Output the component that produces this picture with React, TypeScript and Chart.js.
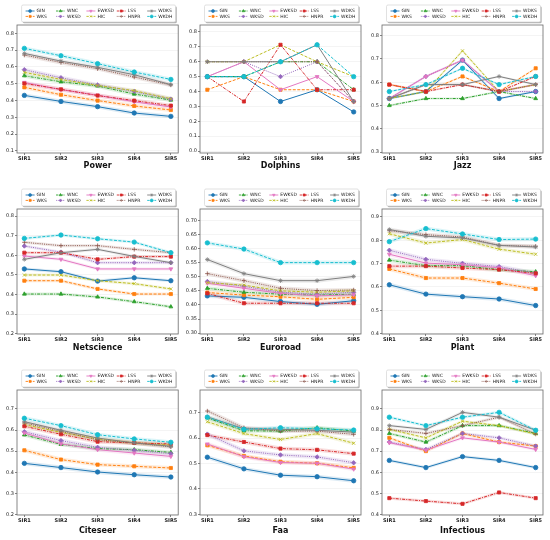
import { useEffect, useRef } from "react";
import { Chart, registerables } from "chart.js";
import { drawPoint } from "chart.js/helpers";

Chart.register(...registerables);
Chart.defaults.font.family = "DejaVu Sans";

const sirLabels = ["SIR1", "SIR2", "SIR3", "SIR4", "SIR5"];
const methodNames = ["GIN", "WKS", "WNC", "WKSD", "EWKSD", "HIC", "LSS", "HNPR", "WDKS", "WKDH"];
const methodColors = [
  "#1f77b4", "#ff7f0e", "#2ca02c", "#9467bd", "#e377c2",
  "#bcbd22", "#d62728", "#8c564b", "#7f7f7f", "#17becf",
];
const methodDashes = [
  [], [3, 1.5], [3, 1.2, 1, 1.2], [1, 1.2], [],
  [3, 1.5], [3, 1.2, 1, 1.2], [1, 1.2], [], [3, 1.5],
];
const methodMarkers = ["circle", "rect", "triangle", "rectRot", "triangle", "crossRot", "rect", "cross", "star", "circle"];
const markerRotation = [0, 0, 0, 0, 180, 0, 0, 0, 0, 0];

// one row per method, in the order of methodNames
const powerValues = [
  [0.431, 0.395, 0.364, 0.326, 0.306],
  [0.479, 0.435, 0.4, 0.368, 0.344],
  [0.548, 0.512, 0.487, 0.439, 0.403],
  [0.584, 0.536, 0.493, 0.455, 0.409],
  [0.508, 0.465, 0.432, 0.393, 0.362],
  [0.568, 0.526, 0.49, 0.459, 0.411],
  [0.502, 0.467, 0.43, 0.4, 0.37],
  [0.671, 0.627, 0.59, 0.54, 0.493],
  [0.681, 0.635, 0.598, 0.554, 0.495],
  [0.711, 0.667, 0.62, 0.57, 0.526],
];
const dolphinsValues = [
  [0.5, 0.5, 0.333, 0.412, 0.263],
  [0.412, 0.5, 0.412, 0.412, 0.333],
  [0.5, 0.5, 0.6, 0.6, 0.412],
  [0.5, 0.6, 0.5, 0.6, 0.333],
  [0.5, 0.6, 0.412, 0.5, 0.333],
  [0.6, 0.6, 0.714, 0.6, 0.5],
  [0.5, 0.333, 0.714, 0.412, 0.412],
  [0.6, 0.6, 0.6, 0.6, 0.333],
  [0.6, 0.6, 0.6, 0.714, 0.333],
  [0.5, 0.5, 0.6, 0.714, 0.5],
];
const jazzValues = [
  [0.53, 0.56, 0.695, 0.53, 0.56],
  [0.59, 0.56, 0.625, 0.56, 0.66],
  [0.5, 0.53, 0.53, 0.56, 0.53],
  [0.53, 0.625, 0.695, 0.56, 0.56],
  [0.53, 0.625, 0.695, 0.56, 0.59],
  [0.53, 0.56, 0.735, 0.56, 0.59],
  [0.59, 0.56, 0.59, 0.56, 0.625],
  [0.53, 0.59, 0.59, 0.56, 0.59],
  [0.53, 0.59, 0.59, 0.625, 0.59],
  [0.56, 0.59, 0.66, 0.59, 0.625],
];
const netscienceValues = [
  [0.53, 0.516, 0.468, 0.485, 0.47],
  [0.47, 0.47, 0.428, 0.402, 0.402],
  [0.402, 0.402, 0.387, 0.363, 0.337],
  [0.647, 0.616, 0.562, 0.562, 0.562],
  [0.596, 0.579, 0.53, 0.53, 0.53],
  [0.499, 0.499, 0.47, 0.455, 0.428],
  [0.613, 0.613, 0.579, 0.593, 0.593],
  [0.666, 0.649, 0.649, 0.63, 0.613],
  [0.579, 0.613, 0.63, 0.594, 0.562],
  [0.686, 0.703, 0.684, 0.667, 0.613],
];
const euroroadValues = [
  [0.432, 0.427, 0.412, 0.402, 0.415],
  [0.444, 0.435, 0.429, 0.42, 0.427],
  [0.459, 0.445, 0.438, 0.435, 0.438],
  [0.483, 0.466, 0.445, 0.438, 0.445],
  [0.477, 0.459, 0.441, 0.432, 0.436],
  [0.479, 0.47, 0.45, 0.445, 0.45],
  [0.441, 0.406, 0.406, 0.406, 0.406],
  [0.511, 0.486, 0.459, 0.451, 0.453],
  [0.561, 0.511, 0.486, 0.486, 0.501],
  [0.62, 0.598, 0.55, 0.55, 0.55],
];
const plantValues = [
  [0.609, 0.569, 0.558, 0.548, 0.52],
  [0.677, 0.638, 0.638, 0.616, 0.591],
  [0.715, 0.691, 0.691, 0.674, 0.665],
  [0.757, 0.718, 0.701, 0.687, 0.659],
  [0.74, 0.702, 0.695, 0.682, 0.648],
  [0.828, 0.788, 0.803, 0.762, 0.74],
  [0.689, 0.689, 0.681, 0.674, 0.658],
  [0.841, 0.824, 0.814, 0.778, 0.774],
  [0.846, 0.817, 0.81, 0.778, 0.771],
  [0.794, 0.85, 0.827, 0.803, 0.805],
];
const citeseerValues = [
  [0.442, 0.422, 0.401, 0.388, 0.377],
  [0.504, 0.46, 0.436, 0.428, 0.42],
  [0.577, 0.532, 0.512, 0.507, 0.494],
  [0.592, 0.55, 0.518, 0.504, 0.488],
  [0.586, 0.535, 0.507, 0.491, 0.475],
  [0.626, 0.589, 0.558, 0.539, 0.529],
  [0.618, 0.58, 0.545, 0.539, 0.534],
  [0.634, 0.594, 0.554, 0.539, 0.52],
  [0.64, 0.599, 0.562, 0.539, 0.523],
  [0.656, 0.621, 0.578, 0.558, 0.542],
];
const faaValues = [
  [0.525, 0.479, 0.454, 0.448, 0.432],
  [0.572, 0.53, 0.507, 0.501, 0.483],
  [0.68, 0.629, 0.628, 0.641, 0.628],
  [0.616, 0.55, 0.534, 0.526, 0.503],
  [0.577, 0.527, 0.504, 0.501, 0.478],
  [0.665, 0.618, 0.595, 0.618, 0.58],
  [0.612, 0.585, 0.559, 0.554, 0.539],
  [0.707, 0.641, 0.628, 0.628, 0.615],
  [0.684, 0.637, 0.635, 0.631, 0.624],
  [0.683, 0.635, 0.641, 0.637, 0.632],
];
const infectiousValues = [
  [0.656, 0.622, 0.674, 0.656, 0.622],
  [0.763, 0.7, 0.784, 0.743, 0.724],
  [0.784, 0.743, 0.821, 0.821, 0.784],
  [0.743, 0.708, 0.784, 0.763, 0.724],
  [0.74, 0.705, 0.763, 0.743, 0.708],
  [0.803, 0.763, 0.842, 0.821, 0.781],
  [0.477, 0.463, 0.45, 0.504, 0.477],
  [0.803, 0.784, 0.821, 0.861, 0.781],
  [0.821, 0.803, 0.884, 0.861, 0.799],
  [0.861, 0.821, 0.861, 0.884, 0.799],
];

const powerTicks = [0.1, 0.2, 0.3, 0.4, 0.5, 0.6, 0.7, 0.8];
const dolphinsTicks = [0, 0.1, 0.2, 0.3, 0.4, 0.5, 0.6, 0.7, 0.8];
const jazzTicks = [0.3, 0.4, 0.5, 0.6, 0.7, 0.8];
const netscienceTicks = [0.2, 0.3, 0.4, 0.5, 0.6, 0.7, 0.8];
const euroroadTicks = [0.3, 0.35, 0.4, 0.45, 0.5, 0.55, 0.6, 0.65, 0.7];
const plantTicks = [0.4, 0.5, 0.6, 0.7, 0.8, 0.9];
const citeseerTicks = [0.2, 0.3, 0.4, 0.5, 0.6, 0.7];
const faaTicks = [0.3, 0.4, 0.5, 0.6, 0.7];
const infectiousTicks = [0.4, 0.5, 0.6, 0.7, 0.8, 0.9];

const panels = [
  { title: "Power", values: powerValues, yMin: 0.088, yMax: 0.85, ticks: powerTicks, digits: 1, band: 4 },
  { title: "Dolphins", values: dolphinsValues, yMin: -0.013, yMax: 0.847, ticks: dolphinsTicks, digits: 1, band: 0 },
  { title: "Jazz", values: jazzValues, yMin: 0.296, yMax: 0.846, ticks: jazzTicks, digits: 1, band: 2 },
  { title: "Netscience", values: netscienceValues, yMin: 0.198, yMax: 0.836, ticks: netscienceTicks, digits: 1, band: 3 },
  { title: "Euroroad", values: euroroadValues, yMin: 0.297, yMax: 0.74, ticks: euroroadTicks, digits: 2, band: 4 },
  { title: "Plant", values: plantValues, yMin: 0.398, yMax: 0.934, ticks: plantTicks, digits: 1, band: 4 },
  { title: "Citeseer", values: citeseerValues, yMin: 0.197, yMax: 0.79, ticks: citeseerTicks, digits: 1, band: 4 },
  { title: "Faa", values: faaValues, yMin: 0.297, yMax: 0.79, ticks: faaTicks, digits: 1, band: 4 },
  { title: "Infectious", values: infectiousValues, yMin: 0.397, yMax: 0.99, ticks: infectiousTicks, digits: 1, band: 3 },
];

const CELL_W = 183;
const CELL_H = 180;
const colLeft = [0, 183, 367];
const frameL = [17, 17, 15];
const frameR = [181, 178, 176];
const frameT = [25, 29, 30];
const frameB = [153, 154, 155];
const titleGap = [13, 14, 16];

const withAlpha = (hex: string, a: number) => {
  const n = parseInt(hex.slice(1), 16);
  return `rgba(${(n >> 16) & 255},${(n >> 8) & 255},${n & 255},${a})`;
};

const roundRect = (ctx: CanvasRenderingContext2D, x: number, y: number, w: number, h: number, r: number) => {
  ctx.beginPath();
  ctx.moveTo(x + r, y);
  ctx.lineTo(x + w - r, y);
  ctx.quadraticCurveTo(x + w, y, x + w, y + r);
  ctx.lineTo(x + w, y + h - r);
  ctx.quadraticCurveTo(x + w, y + h, x + w - r, y + h);
  ctx.lineTo(x + r, y + h);
  ctx.quadraticCurveTo(x, y + h, x, y + h - r);
  ctx.lineTo(x, y + r);
  ctx.quadraticCurveTo(x, y, x + r, y);
  ctx.closePath();
};

const Panel = ({ index }: { index: number }) => {
  const canvasRef = useRef<HTMLCanvasElement>(null);
  const p = panels[index];
  const col = index % 3;
  const row = Math.floor(index / 3);

  useEffect(() => {
    if (!canvasRef.current) return;
    const ctx = canvasRef.current.getContext("2d");
    if (!ctx) return;

    const lines = p.values.map((vals, i) => ({
      label: methodNames[i],
      data: vals.map((v, k) => ({ x: k, y: v })),
      borderColor: methodColors[i],
      backgroundColor: methodColors[i],
      borderWidth: 1,
      borderDash: methodDashes[i],
      pointStyle: methodMarkers[i],
      rotation: markerRotation[i],
      pointRadius: 2.2,
      pointBorderWidth: 0.8,
      pointBorderColor: methodColors[i],
      tension: 0,
      order: -i,
    }));
    const bands = p.band
      ? p.values.map((vals, i) => ({
          label: "band" + i,
          data: vals.map((v, k) => ({ x: k, y: v })),
          borderColor: withAlpha(methodColors[i], 0.15),
          borderWidth: p.band,
          pointRadius: 0,
          tension: 0,
          order: 5,
        }))
      : [];

    const decor = {
      id: "decor",
      afterDraw(chart: any) {
        const c = chart.ctx as CanvasRenderingContext2D;
        const a = chart.chartArea;
        c.save();
        // frame
        c.strokeStyle = "#6a6a6a";
        c.lineWidth = 0.8;
        c.setLineDash([]);
        c.strokeRect(a.left, a.top, a.right - a.left, a.bottom - a.top);
        // title
        c.fillStyle = "#111";
        c.font = "bold 8px 'DejaVu Sans'";
        c.textAlign = "center";
        c.textBaseline = "middle";
        c.fillText(p.title, (a.left + a.right) / 2, a.bottom + titleGap[row]);
        // legend
        const w = 154;
        const h = 17;
        const x0 = (a.left + a.right) / 2 - w / 2 + 1;
        const y0 = a.top - 20;
        c.fillStyle = "rgba(0,0,0,0.3)";
        roundRect(c, x0 + 1.2, y0 + 1.2, w, h, 1.5);
        c.fill();
        c.fillStyle = "#fff";
        roundRect(c, x0, y0, w, h, 1.5);
        c.fill();
        c.strokeStyle = "#ccc";
        c.lineWidth = 0.6;
        c.stroke();
        c.font = "4.5px 'DejaVu Sans'";
        c.textAlign = "left";
        methodNames.forEach((name, i) => {
          const lc = Math.floor(i / 2);
          const lr = i % 2;
          const lx = x0 + 4 + lc * 30.4;
          const ly = y0 + 6 + lr * 5.4;
          c.strokeStyle = methodColors[i];
          c.lineWidth = 0.9;
          c.setLineDash(methodDashes[i].map((d) => d * 0.8));
          c.beginPath();
          c.moveTo(lx, ly);
          c.lineTo(lx + 9, ly);
          c.stroke();
          c.setLineDash([]);
          c.fillStyle = methodColors[i];
          c.lineWidth = 0.6;
          drawPoint(c, { pointStyle: methodMarkers[i] as any, rotation: markerRotation[i], radius: 1.5, borderWidth: 0.6 }, lx + 4.5, ly);
          c.fillStyle = "#222";
          c.fillText(name, lx + 11, ly + 0.2);
        });
        c.restore();
      },
    };

    const chart = new Chart(ctx, {
      type: "line",
      data: { datasets: [...lines, ...bands] as any },
      options: {
        animation: false,
        responsive: false,
        layout: { padding: { top: frameT[row], right: CELL_W - frameR[col], bottom: 0, left: 0 } },
        plugins: { legend: { display: false }, tooltip: { enabled: false }, title: { display: false } },
        scales: {
          x: {
            type: "linear",
            min: -0.2,
            max: 4.2,
            afterBuildTicks: (s: any) => {
              s.ticks = sirLabels.map((_, k) => ({ value: k }));
            },
            afterFit: (s: any) => {
              s.height = CELL_H - frameB[row];
            },
            ticks: {
              autoSkip: false,
              maxRotation: 0,
              padding: 1,
              color: "#222",
              font: { size: 5, weight: "bold" },
              callback: (v: any) => sirLabels[Number(v)] ?? "",
            },
            grid: { drawOnChartArea: false, drawTicks: true, tickLength: 2, tickColor: "#333", lineWidth: 0.6 },
            border: { display: false },
          },
          y: {
            type: "linear",
            min: p.yMin,
            max: p.yMax,
            afterBuildTicks: (s: any) => {
              s.ticks = p.ticks.map((v) => ({ value: v }));
            },
            afterFit: (s: any) => {
              s.width = frameL[col];
            },
            ticks: {
              padding: 1,
              color: "#222",
              font: { size: 5 },
              callback: (v: any) => Number(v).toFixed(p.digits),
            },
            grid: { color: "#ececec", lineWidth: 0.6, drawTicks: true, tickLength: 2, tickColor: "#333" },
            border: { display: false },
          },
        },
      },
      plugins: [decor],
    });

    return () => {
      chart.destroy();
    };
  }, []);

  return (
    <canvas
      ref={canvasRef}
      width={CELL_W}
      height={CELL_H}
      style={{ position: "absolute", left: colLeft[col], top: row * CELL_H, width: CELL_W, height: CELL_H }}
    />
  );
};

const App = () => {
  useEffect(() => {
    document.body.style.margin = "0";
  }, []);
  return (
    <div style={{ position: "relative", width: 550, height: 540, background: "#fff" }}>
      {panels.map((_, i) => (
        <Panel key={i} index={i} />
      ))}
    </div>
  );
};

export default App;
